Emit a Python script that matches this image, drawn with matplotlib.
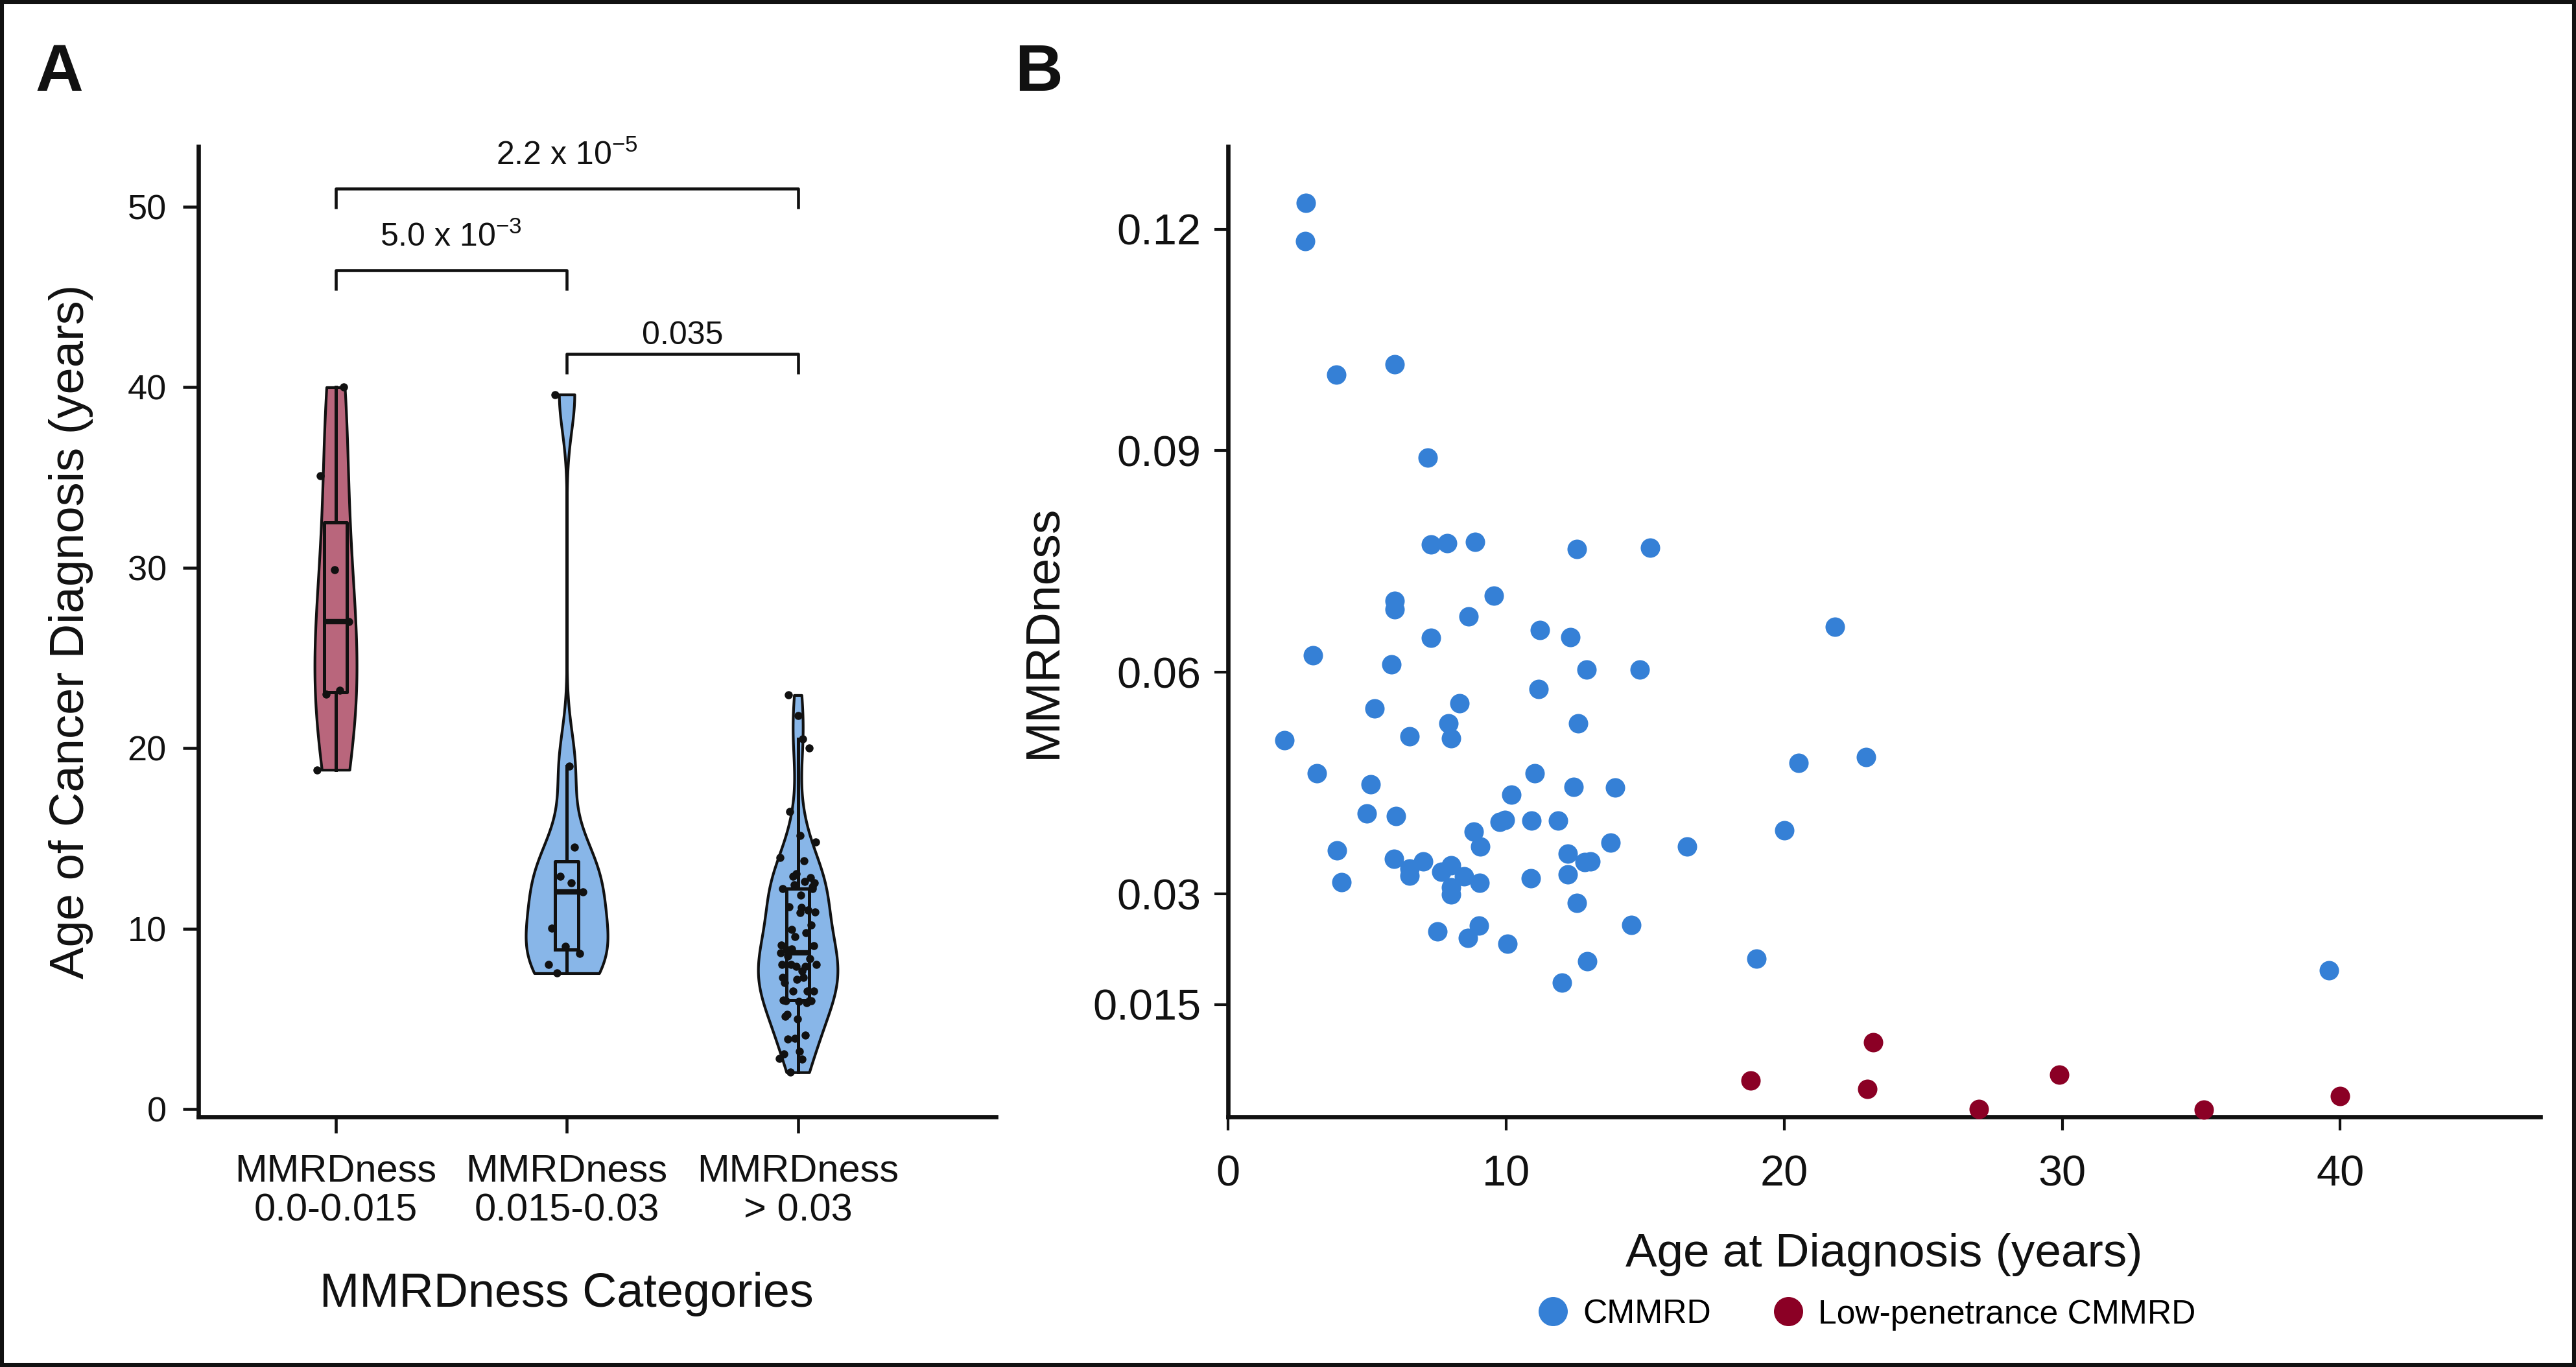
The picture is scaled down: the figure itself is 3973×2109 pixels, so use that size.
import numpy as np
import matplotlib
matplotlib.use("Agg")
import matplotlib.pyplot as plt
from matplotlib import font_manager
from matplotlib.lines import Line2D
from matplotlib.patches import Rectangle

# ------------------------------------------------------------------ data
# Panel B: CMMRD patients (age at diagnosis, MMRDness)
cmmrd_age = [2.80, 2.78, 3.90, 6.00, 7.19, 7.30, 7.89, 8.89, 12.55, 15.17,
             6.00, 6.00, 9.57, 8.66, 7.30, 11.22, 12.32, 21.82,
             3.05, 5.88, 12.90, 14.80, 11.17, 5.26, 8.33, 7.92, 8.03, 12.60,
             2.04, 6.53, 3.20, 5.13, 11.02, 12.42, 13.93, 20.52, 22.94, 10.19,
             4.99, 6.04, 9.76, 9.96, 10.92, 11.87, 8.83, 20.00, 3.93, 9.08,
             13.75, 16.50, 12.21, 5.98, 7.02, 6.53, 6.53, 8.03, 7.67, 8.49,
             12.83, 13.03, 12.21, 4.08, 8.03, 8.03, 9.04, 10.89, 12.55, 7.53,
             8.64, 9.03, 10.04, 14.51, 12.91, 12.02, 19.00, 39.60]
cmmrd_mmrd = [0.1236, 0.1184, 0.1003, 0.1017, 0.0891, 0.0773, 0.0775, 0.0777, 0.0767, 0.0769,
              0.0697, 0.0685, 0.0704, 0.0676, 0.0647, 0.0657, 0.0648, 0.0662,
              0.0623, 0.0611, 0.0604, 0.0604, 0.0577, 0.0551, 0.0558, 0.0531, 0.0511, 0.0531,
              0.0508, 0.0513, 0.0463, 0.0448, 0.0463, 0.0445, 0.0444, 0.0477, 0.0485, 0.0434,
              0.0409, 0.0405, 0.0397, 0.0400, 0.0399, 0.0399, 0.0384, 0.0386, 0.0359, 0.0364,
              0.0369, 0.0364, 0.0354, 0.0347, 0.0344, 0.0334, 0.0325, 0.0339, 0.0330, 0.0324,
              0.0343, 0.0344, 0.0326, 0.0316, 0.0309, 0.0299, 0.0315, 0.0321, 0.0288, 0.0249,
              0.0240, 0.0257, 0.0232, 0.0258, 0.0209, 0.0180, 0.0212, 0.0196]
# Panel B: low-penetrance CMMRD patients
lowpen_age = [18.8, 23.2, 23.0, 27.0, 29.9, 35.1, 40.0]
lowpen_mmrd = [0.0047, 0.0099, 0.0036, 0.0009, 0.0055, 0.0008, 0.0026]

# Panel A: categories of MMRDness
category_labels = ["MMRDness\n0.0-0.015", "MMRDness\n0.015-0.03", "MMRDness\n> 0.03"]
category_edges = [0.015, 0.03]
pvalue_pairs = [(0, 2), (0, 1), (1, 2)]
pvalue_labels = [r"2.2 x 10$^{-5}$", r"5.0 x 10$^{-3}$", "0.035"]

yticks_a = [0, 10, 20, 30, 40, 50]
xticks_b = [0, 10, 20, 30, 40]
yticks_b = [0.015, 0.03, 0.06, 0.09, 0.12]
yticklabels_b = ["0.015", "0.03", "0.06", "0.09", "0.12"]
legend_labels = ["CMMRD", "Low-penetrance CMMRD"]

# ------------------------------------------------------------------ fonts
REG = ["Liberation Sans", "DejaVu Sans"]
plt.rcParams["font.family"] = REG
plt.rcParams["mathtext.fontset"] = "custom"
plt.rcParams["mathtext.rm"] = "Liberation Sans"
plt.rcParams["mathtext.it"] = "Liberation Sans:italic"
plt.rcParams["mathtext.bf"] = "Liberation Sans:bold"

BLUE = "#3580D6"
RED = "#8B0025"
VIOLIN_COLORS = ["#B9667C", "#88B6E8", "#88B6E8"]
INK = "#111111"

# ------------------------------------------------------------------ figure
fig = plt.figure(figsize=(3973 / 300, 2109 / 300), dpi=300)
axA = fig.add_axes([0.0770, 0.1830, 0.3096, 0.7098])
axB = fig.add_axes([0.4767, 0.1830, 0.5095, 0.7098])

# ---------------- panel A
all_age = np.array(cmmrd_age + lowpen_age)
all_mmrd = np.array(cmmrd_mmrd + lowpen_mmrd)
cat = np.where(all_mmrd < category_edges[0], 0, np.where(all_mmrd <= category_edges[1], 1, 2))
groups = [all_age[cat == k] for k in range(3)]
positions = np.arange(3)


def nrd0(kde):
    d = np.asarray(kde.dataset).ravel()
    sd = d.std(ddof=1)
    q75, q25 = np.percentile(d, [75, 25])
    lo = min(sd, (q75 - q25) / 1.34)
    return 0.9 * lo * len(d) ** -0.2 / sd


vp = axA.violinplot(groups, positions=positions, widths=[0.182, 0.354, 0.344],
                    showextrema=False, bw_method=nrd0, points=300)
for body, c in zip(vp["bodies"], VIOLIN_COLORS):
    body.set_facecolor(c)
    body.set_edgecolor(INK)
    body.set_linewidth(1.0)
    body.set_alpha(1)
    body.set_zorder(1)

axA.boxplot(groups, positions=positions, widths=0.1, showfliers=False,
            showcaps=False, whis=1.5, manage_ticks=False,
            medianprops=dict(color=INK, lw=2.0),
            boxprops=dict(color=INK, lw=1.2),
            whiskerprops=dict(color=INK, lw=1.2), zorder=3)

for k, g in enumerate(groups):
    n = len(g)
    jit = (((np.arange(n) * 0.6180339887) % 1.0) - 0.5) * 0.16
    axA.scatter(positions[k] + jit, g, s=9, color=INK, zorder=4, linewidths=0)

# significance brackets (layout)
bracket_top = [51.0, 46.48, 41.85]
bracket_drop = 1.12
text_base = [52.33, 47.8, 42.39]
for (a, b), lab, yt, ytx in zip(pvalue_pairs, pvalue_labels, bracket_top, text_base):
    axA.plot([a, a, b, b], [yt - bracket_drop, yt, yt, yt - bracket_drop],
             color=INK, lw=1.1, clip_on=False, solid_capstyle="butt")
    axA.text((a + b) / 2, ytx, lab, ha="center", va="baseline", fontsize=12,
             color=INK)

axA.set_xlim(-0.594, 2.857)
axA.set_ylim(-0.43, 53.34)
axA.set_yticks(yticks_a)
axA.set_xticks(positions)
axA.set_xticklabels(category_labels, fontsize=14.3, linespacing=1.15)
axA.tick_params(axis="y", labelsize=13, length=5.8, width=1.1, pad=6, colors=INK)
axA.tick_params(axis="x", length=6, width=1.1, pad=7.5, colors=INK)
for s in ["top", "right"]:
    axA.spines[s].set_visible(False)
for s in ["left", "bottom"]:
    axA.spines[s].set_linewidth(1.6)
    axA.spines[s].set_color(INK)
axA.set_xlabel("MMRDness Categories", fontsize=17.7, labelpad=16, color=INK, x=0.462)
axA.set_ylabel("Age of Cancer Diagnosis (years)", fontsize=17.8, labelpad=12.5, color=INK)

# ---------------- panel B
axB.scatter(cmmrd_age, cmmrd_mmrd, s=52, color=BLUE, linewidths=0, zorder=3,
            clip_on=False)
axB.scatter(lowpen_age, lowpen_mmrd, s=52, color=RED, linewidths=0, zorder=3,
            clip_on=False)
axB.set_xlim(0, 47.2)
axB.set_ylim(-0.0002, 0.1312)
axB.set_xticks(xticks_b)
axB.set_yticks(yticks_b)
axB.set_yticklabels(yticklabels_b)
axB.tick_params(axis="both", labelsize=16, length=5, width=1.0, colors=INK)
axB.tick_params(axis="y", pad=5)
axB.tick_params(axis="x", pad=9)
for s in ["top", "right"]:
    axB.spines[s].set_visible(False)
for s in ["left", "bottom"]:
    axB.spines[s].set_linewidth(1.6)
    axB.spines[s].set_color(INK)
axB.set_xlabel("Age at Diagnosis (years)", fontsize=17.5, labelpad=14, color=INK)
axB.set_ylabel("MMRDness", fontsize=18, labelpad=10, color=INK)

handles = [Line2D([], [], ls="none", marker="o", markersize=10.8, color=BLUE, mew=0),
           Line2D([], [], ls="none", marker="o", markersize=10.8, color=RED, mew=0)]
fig.legend(handles, legend_labels, loc="center", bbox_to_anchor=(0.7250, 0.0384),
           ncol=2, frameon=False, handlelength=0.8, handletextpad=0.5,
           columnspacing=1.9, prop=font_manager.FontProperties(family=REG, size=12.4))

# panel letters and frame
fig.text(0.0138, 0.9336, "A", fontsize=24.5, weight="bold", va="baseline", color=INK)
fig.text(0.394, 0.9336, "B", fontsize=24.5, weight="bold", va="baseline", color=INK)
fig.add_artist(Rectangle((0, 0), 1, 1, transform=fig.transFigure, fill=False,
                         lw=2.9, edgecolor=INK))

fig.savefig("out.png", dpi=300, facecolor="white")
